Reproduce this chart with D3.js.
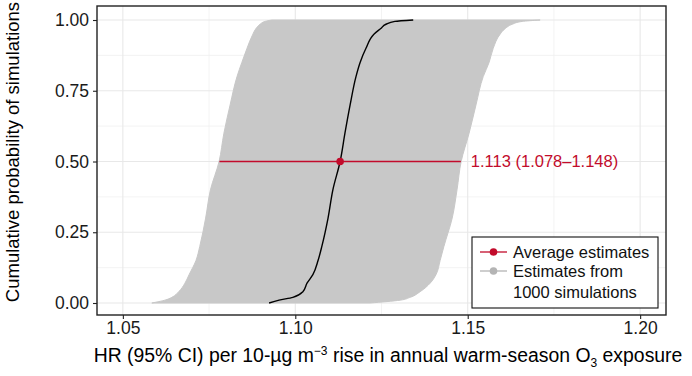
<!DOCTYPE html>
<html>
<head>
<meta charset="utf-8">
<script src="https://cdn.jsdelivr.net/npm/d3@7"></script>
<style>
  body { margin: 0; background: #fff; }
  svg { display: block; font-family: Arial, "Liberation Sans", sans-serif; }
</style>
</head>
<body>
<div id="chart"></div>
<script>
// Cumulative probability of simulations (rank / 1000)
const probLevels = [0, 0.01, 0.02, 0.04, 0.07, 0.1, 0.15, 0.2, 0.3, 0.4, 0.5,
                    0.6, 0.7, 0.8, 0.85, 0.9, 0.95, 0.97, 0.985, 0.995, 1.0];
// lower 95% CI of each simulation (left edge of the gray band)
const lowerCI = [1.0584, 1.0622, 1.0642, 1.0662, 1.0680, 1.0692, 1.0712, 1.0723, 1.0740, 1.0754, 1.0779,
                 1.0793, 1.0811, 1.0831, 1.0845, 1.0860, 1.0877, 1.0886, 1.0898, 1.0912, 1.0932];
// point estimates (black curve)
const pointEst = [1.0924, 1.0953, 1.0993, 1.1022, 1.1034, 1.1051, 1.1066, 1.1077, 1.1095, 1.1109, 1.1130,
                  1.1144, 1.1159, 1.1176, 1.1188, 1.1205, 1.1228, 1.1248, 1.1263, 1.1289, 1.1342];
// upper 95% CI (right edge of the gray band)
const upperCI = [1.1217, 1.1304, 1.1333, 1.1362, 1.1391, 1.1408, 1.1420, 1.1431, 1.1455, 1.1469, 1.1481,
                 1.1504, 1.1524, 1.1545, 1.1562, 1.1574, 1.1594, 1.1609, 1.1629, 1.1658, 1.1710];

// average estimate: [HR, lower, upper] at probability 0.5
const avgEstimate = [1.113, 1.078, 1.148];
const avgProb = 0.5;

const xTicks = [1.05, 1.10, 1.15, 1.20];
const xMinor = [1.075, 1.125, 1.175];
const yTicks = [0, 0.25, 0.5, 0.75, 1.0];
const yMinor = [0.125, 0.375, 0.625, 0.875];
const legendLabels = ['Average estimates', 'Estimates from', '1000 simulations'];

const width = 692, height = 376;
const margin = { top: 6, right: 26, bottom: 61, left: 97 };
const innerW = width - margin.left - margin.right;
const innerH = height - margin.top - margin.bottom;

const RED = '#c20b2b';
const GRAY = '#c8c8c8';

const svg = d3.select('#chart')
    .append('svg')
    .attr('width', width)
    .attr('height', height);

const g = svg.append('g')
    .attr('transform', `translate(${margin.left},${margin.top})`);

const x = d3.scaleLinear().domain([1.0425, 1.2075]).range([0, innerW]);
const y = d3.scaleLinear().domain([-0.0424, 1.0495]).range([innerH, 0]);

// grille
g.selectAll('.gx-minor').data(xMinor).enter().append('line')
    .attr('x1', d => x(d)).attr('x2', d => x(d))
    .attr('y1', 0).attr('y2', innerH)
    .attr('stroke', '#f0f0f0').attr('stroke-width', 0.8);
g.selectAll('.gy-minor').data(yMinor).enter().append('line')
    .attr('y1', d => y(d)).attr('y2', d => y(d))
    .attr('x1', 0).attr('x2', innerW)
    .attr('stroke', '#f0f0f0').attr('stroke-width', 0.8);
g.selectAll('.gx').data(xTicks).enter().append('line')
    .attr('x1', d => x(d)).attr('x2', d => x(d))
    .attr('y1', 0).attr('y2', innerH)
    .attr('stroke', '#e8e8e8').attr('stroke-width', 1.1);
g.selectAll('.gy').data(yTicks).enter().append('line')
    .attr('y1', d => y(d)).attr('y2', d => y(d))
    .attr('x1', 0).attr('x2', innerW)
    .attr('stroke', '#e8e8e8').attr('stroke-width', 1.1);

// bande grise des IC
const bandData = probLevels.map((p, i) => ({ p, lo: lowerCI[i], hi: upperCI[i] }));
const area = d3.area()
    .x0(d => x(d.lo))
    .x1(d => x(d.hi))
    .y(d => y(d.p))
    .curve(d3.curveMonotoneY);
g.append('path')
    .datum(bandData)
    .attr('d', area)
    .attr('fill', GRAY)
    .attr('stroke', GRAY)
    .attr('stroke-width', 1);

// courbe des estimations ponctuelles
const line = d3.line()
    .x(d => x(d.est))
    .y(d => y(d.p))
    .curve(d3.curveMonotoneY);
g.append('path')
    .datum(probLevels.map((p, i) => ({ p, est: pointEst[i] })))
    .attr('d', line)
    .attr('fill', 'none')
    .attr('stroke', '#000')
    .attr('stroke-width', 1.4);

// estimation moyenne
g.append('line')
    .attr('x1', x(avgEstimate[1])).attr('x2', x(avgEstimate[2]))
    .attr('y1', y(avgProb)).attr('y2', y(avgProb))
    .attr('stroke', RED).attr('stroke-width', 1.3);
g.append('circle')
    .attr('cx', x(avgEstimate[0])).attr('cy', y(avgProb))
    .attr('r', 3.8).attr('fill', RED);
g.append('text')
    .attr('x', x(avgEstimate[2]) + 10)
    .attr('y', y(avgProb))
    .attr('dy', '0.35em')
    .attr('fill', RED)
    .style('font-size', '16.5px')
    .text(`${avgEstimate[0].toFixed(3)} (${avgEstimate[1].toFixed(3)}–${avgEstimate[2].toFixed(3)})`);

// cadre
g.append('rect')
    .attr('width', innerW).attr('height', innerH)
    .attr('fill', 'none')
    .attr('stroke', '#222').attr('stroke-width', 1.4);

// axes
const xAxis = g.append('g')
    .attr('transform', `translate(0,${innerH})`)
    .call(d3.axisBottom(x).tickValues(xTicks).tickFormat(d3.format('.2f')).tickSize(4).tickPadding(3));
const yAxis = g.append('g')
    .call(d3.axisLeft(y).tickValues(yTicks).tickFormat(d3.format('.2f')).tickSize(4).tickPadding(4));
[xAxis, yAxis].forEach(a => {
    a.select('.domain').remove();
    a.selectAll('line').attr('stroke', '#222').attr('stroke-width', 1.1);
    a.selectAll('text')
        .attr('fill', '#1a1a1a')
        .style('font-size', '17.5px')
        .style('font-family', 'Arial, "Liberation Sans", sans-serif');
});

// titres des axes
const xTitle = svg.append('text')
    .attr('x', 388)
    .attr('y', 362)
    .attr('text-anchor', 'middle')
    .attr('fill', '#000')
    .style('font-size', '19.4px');
xTitle.append('tspan').text('HR (95% CI) per 10-µg m');
xTitle.append('tspan').attr('dy', -7).style('font-size', '12px').text('−3');
xTitle.append('tspan').attr('dy', 7).text(' rise in annual warm-season O');
xTitle.append('tspan').attr('dy', 5).style('font-size', '12px').text('3');
xTitle.append('tspan').attr('dy', -5).text(' exposure');

svg.append('text')
    .attr('transform', `translate(19,152) rotate(-90)`)
    .attr('text-anchor', 'middle')
    .attr('fill', '#000')
    .style('font-size', '18.5px')
    .text('Cumulative probability of simulations');

// légende
const legend = svg.append('g').attr('transform', 'translate(472,237)');
legend.append('rect')
    .attr('width', 186).attr('height', 71)
    .attr('fill', '#fff')
    .attr('stroke', '#111').attr('stroke-width', 1.1);
const keys = [{ color: RED, cy: 15 }, { color: '#b4b4b4', cy: 34 }];
keys.forEach(k => {
    legend.append('line')
        .attr('x1', 8).attr('x2', 35)
        .attr('y1', k.cy).attr('y2', k.cy)
        .attr('stroke', k.color).attr('stroke-width', 1.3);
    legend.append('circle')
        .attr('cx', 21.5).attr('cy', k.cy).attr('r', 3.8)
        .attr('fill', k.color);
});
legend.selectAll('.lab').data(legendLabels).enter().append('text')
    .attr('x', 41)
    .attr('y', (d, i) => [15, 34, 55][i])
    .attr('dy', '0.35em')
    .attr('fill', '#111')
    .style('font-size', '16.5px')
    .text(d => d);
</script>
</body>
</html>
